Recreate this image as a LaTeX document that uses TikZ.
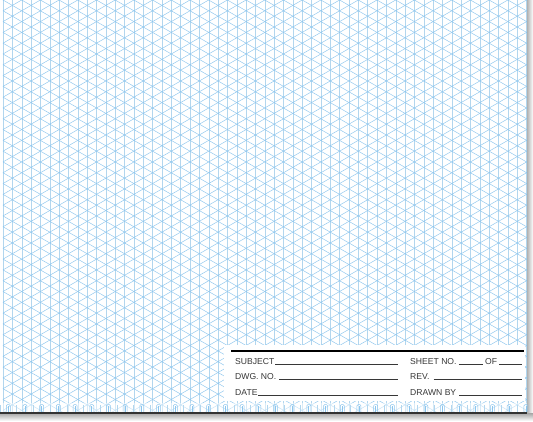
\documentclass[tikz,border=0pt]{standalone}
\usepackage{fontspec}
\setmainfont{Liberation Sans}
\usetikzlibrary{positioning}

\definecolor{gridblue}{RGB}{140,198,238}
\definecolor{paleblue}{RGB}{178,214,238}
\definecolor{inkgrey}{RGB}{55,55,55}

\begin{document}
\begin{tikzpicture}[x=1pt, y=-1pt,
        label/.style={inner sep=0pt, anchor=base west, text=inkgrey, font=\fontsize{8.6}{10}\selectfont},
        blank/.style={draw=inkgrey, line width=0.6pt},
        isoline/.style={draw=gridblue, line width=0.45pt},
        upline/.style={draw=paleblue, line width=0.4pt}]
        \useasboundingbox (0,0) rectangle (533,421);
        \fill[white] (0,0) rectangle (533,421);

        % shadow of the sheet
        \shade[left color=black!30, right color=white] (527,0) rectangle (533,413);
        \shade[top color=black!35, bottom color=white] (0,413) rectangle (533,421);

        % isometric grid
        \begin{scope}
            \clip (0,0) rectangle (527,412);
            \foreach \i in {0,...,56}
                \draw[upline] (\i*9.35+3, 0) -- (\i*9.35+3, 412);
            \foreach \k in {-29,...,39}
                \draw[isoline] (3, \k*10.797) -- (530, \k*10.797+304.3);
            \foreach \k in {0,...,67}
                \draw[isoline] (3, \k*10.797) -- (530, \k*10.797-304.3);
        \end{scope}

        % strip along the bottom edge
        \fill[white, opacity=0.5] (0,403) rectangle (527,412);
        \foreach \i in {0,...,31}{
            \draw[gridblue, line width=0.5pt, rounded corners=1.2pt]
                (\i*16.698+6.3, 411.5) -- (\i*16.698+6.3, 404.5) -- (\i*16.698+10.3, 404.5) -- (\i*16.698+10.3, 411.5);
            \draw[gridblue, line width=0.8pt] (\i*16.698+8.3, 406) -- (\i*16.698+8.3, 411.5);
            \draw[paleblue, line width=0.4pt] (\i*16.698, 405) -- (\i*16.698, 411.5);
        }
        \fill[black!80] (0,411.5) rectangle (527,413.5);

        % title block
        \fill[white] (224,345) rectangle (525,401);
        \coordinate (rule_l) at (231,351);
        \coordinate (rule_r) at (524,351);
        \path (rule_l) edge[draw=black, line width=1.4pt] (rule_r);

        \node[label] (subject) at (235,364) {SUBJECT};
        \node[label] (dwgno) at (235,379.5) {DWG. NO.};
        \node[label] (date) at (235,395) {DATE};
        \coordinate (subject_end) at (398,364);
        \coordinate (dwgno_end) at (398,379.5);
        \coordinate (date_end) at (398,395);

        \path ([xshift=0.8pt]subject.base east) edge[blank] (subject_end);
        \path ([xshift=3pt]dwgno.base east) edge[blank] (dwgno_end);
        \path ([xshift=0.5pt]date.base east) edge[blank] (date_end);

        \node[label] (sheet) at (410,364) {SHEET NO.};
        \node[label] (of) at (485,364) {OF};
        \node[label] (rev) at (410,379.5) {REV.};
        \node[label] (drawn) at (410,395) {DRAWN BY};
        \coordinate (of_end) at (522,364);
        \coordinate (rev_end) at (522,379.5);
        \coordinate (drawn_end) at (522,395);

        \path ([xshift=2pt]sheet.base east) edge[blank] ([xshift=-2.5pt]of.base west);
        \path ([xshift=2pt]of.base east) edge[blank] (of_end);
        \path ([xshift=4pt]rev.base east) edge[blank] (rev_end);
        \path ([xshift=3pt]drawn.base east) edge[blank] (drawn_end);
    \end{tikzpicture}
\end{document}
